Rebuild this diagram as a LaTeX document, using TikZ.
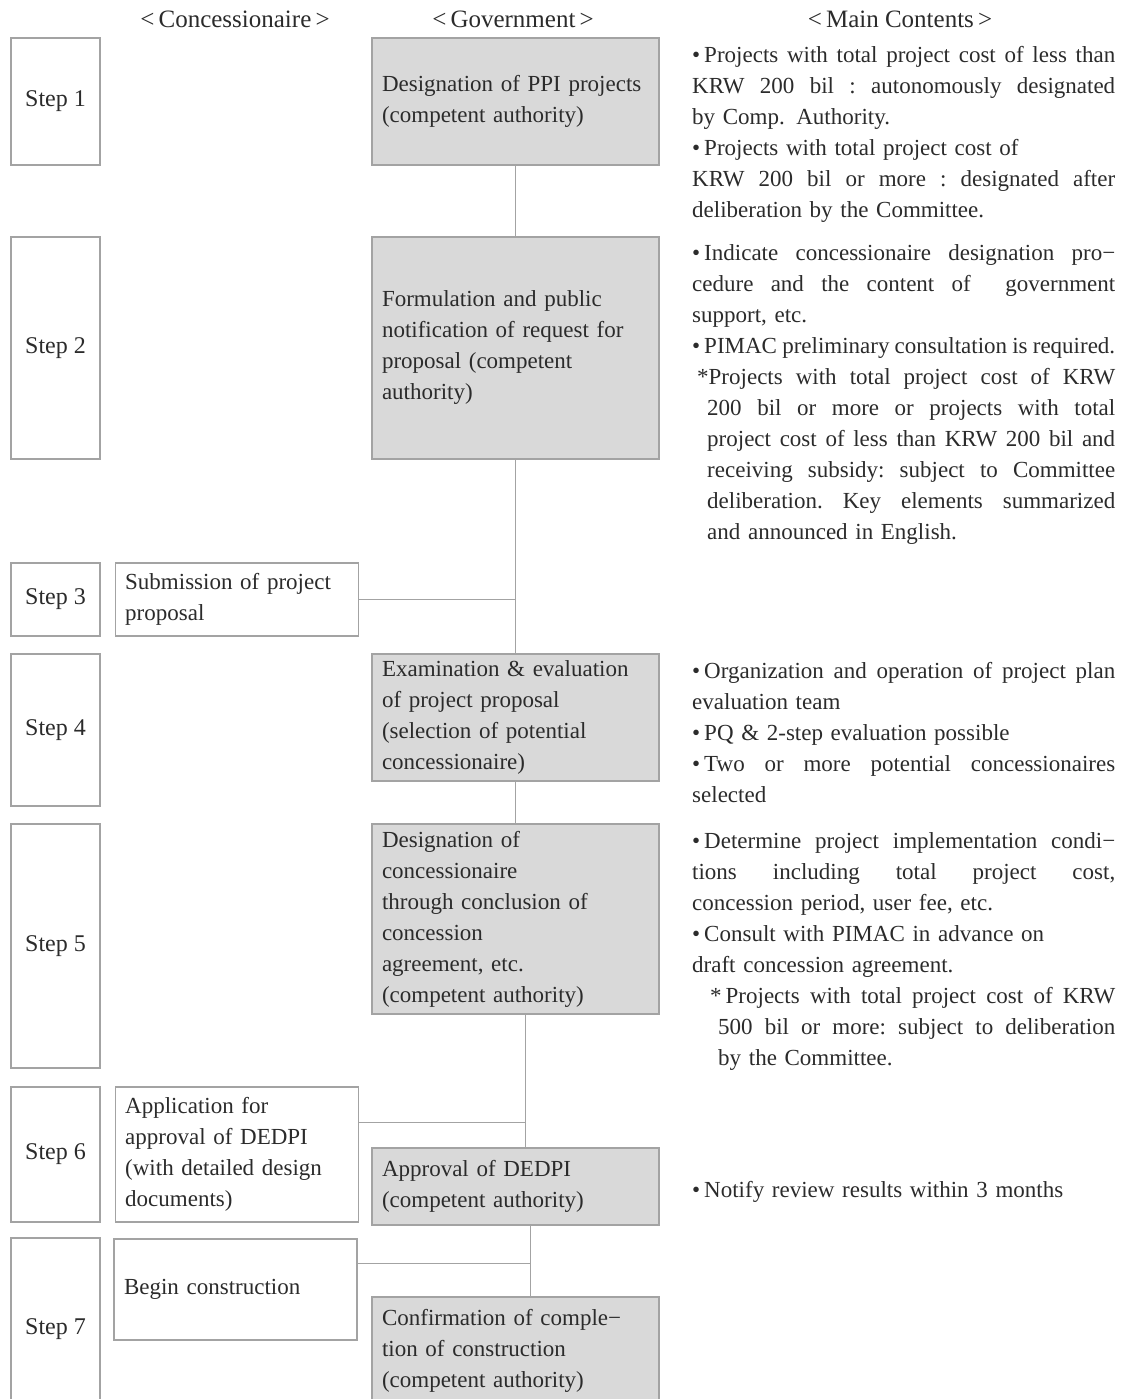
\documentclass[tikz,border=0pt]{standalone}
\usepackage{fontspec}
\setmainfont{Liberation Serif}
\usetikzlibrary{positioning}
\definecolor{boxgray}{HTML}{D9D9D9}
\definecolor{linegray}{HTML}{A3A3A3}
\definecolor{txtgray}{HTML}{2B2B2B}
\newcommand{\justline}[2][0pt]{\hspace*{#1}\hbox to \dimexpr 423pt-#1\relax{\spaceskip=\fontdimen2\font plus 1fil minus 1.5pt\relax \xspaceskip=\spaceskip #2}}
\newcommand{\bul}{•\kern4pt}

\begin{document}
\begin{tikzpicture}[x=1pt, y=-1pt,
	every node/.style={text=txtgray, font=\fontsize{23}{31}\selectfont},
	stepbox/.style={draw=linegray, line width=1.2pt, minimum width=89pt, inner sep=0pt, font=\fontsize{24}{31}\selectfont},
	govbox/.style={draw=linegray, line width=1.2pt, fill=boxgray, text width=267pt, inner xsep=10pt, inner ysep=0pt, align=left},
	conbox/.style={draw=linegray, line width=1.2pt, text width=223pt, inner xsep=10pt, inner ysep=0pt, align=left},
	headtext/.style={anchor=base, font=\fontsize{25}{31}\selectfont},
	maintext/.style={anchor=base west, text width=424pt, inner sep=0pt, align=left, font=\fontsize{23}{31}\selectfont},
	link/.style={draw=linegray, line width=1pt}]
		
		\useasboundingbox (0,0) rectangle (1124,1399);
		
		%headers
		\node[headtext] (hcon) at (235,28) {<\,Concessionaire\,>};
		\node[headtext] (hgov) at (513,28) {<\,Government\,>};
		\node[headtext] (hmain) at (900,28) {<\,Main Contents\,>};
		
		%steps
		\node[stepbox, minimum height=127pt] (step1) at (55.5,101.5) {Step 1};
		\node[stepbox, minimum height=222pt] (step2) at (55.5,348) {Step 2};
		\node[stepbox, minimum height=73pt] (step3) at (55.5,599.5) {Step 3};
		\node[stepbox, minimum height=152pt] (step4) at (55.5,730) {Step 4};
		\node[stepbox, minimum height=244pt] (step5) at (55.5,946) {Step 5};
		\node[stepbox, minimum height=135pt] (step6) at (55.5,1154.5) {Step 6};
		\node[stepbox, minimum height=182pt] (step7) at (55.5,1329) {Step 7};
		
		%government
		\node[govbox, minimum height=127pt] (gov1) at (515.5,101.5) {Designation of PPI projects\\(competent authority)};
		\node[govbox, minimum height=222pt] (gov2) at (515.5,348) {Formulation and public\\notification of request for\\proposal (competent\\authority)};
		\node[govbox, minimum height=127pt] (gov4) at (515.5,717.5) {Examination \& evaluation\\of project proposal\\(selection of potential\\concessionaire)};
		\node[govbox, minimum height=190pt] (gov5) at (515.5,919) {Designation of\\concessionaire\\through conclusion of\\concession\\agreement, etc.\\(competent authority)};
		\node[govbox, minimum height=77pt] (gov6) at (515.5,1186.5) {Approval of DEDPI\\(competent authority)};
		\node[govbox, minimum height=108pt] (gov7) at (515.5,1351) {Confirmation of comple−\\tion of construction\\(competent authority)};
		
		%concessionaire
		\node[conbox, minimum height=73pt, right=14pt of step3] (con3) {Submission of project\\proposal};
		\node[conbox, minimum height=135pt, right=14pt of step6] (con6) {Application for\\approval of DEDPI\\(with detailed design\\documents)};
		\node[conbox, minimum height=101pt] (con7) at (235.5,1289.5) {Begin construction};
		
		%main contents
		\node[maintext] (main1) at (692,63) {\justline{\bul Projects with total project cost of less than}\\
			\justline{KRW 200 bil : autonomously designated}\\
			by Comp. Authority.\\
			\bul Projects with total project cost of\\
			\justline{KRW 200 bil or more : designated after}\\
			deliberation by the Committee.};
		\node[maintext] (main2) at (692,260) {\justline{\bul Indicate concessionaire designation pro−}\\
			\justline{cedure and the content of \ government}\\
			support, etc.\\
			\justline{\bul PIMAC preliminary consultation is required.}\\
			\justline[5pt]{*Projects with total project cost of KRW}\\
			\justline[15pt]{200 bil or more or projects with total}\\
			\justline[15pt]{project cost of less than KRW 200 bil and}\\
			\justline[15pt]{receiving subsidy: subject to Committee}\\
			\justline[15pt]{deliberation. Key elements summarized}\\
			\hspace*{15pt}and announced in English.};
		\node[maintext] (main4) at (692,678) {\justline{\bul Organization and operation of project plan}\\
			evaluation team\\
			\bul PQ \& 2-step evaluation possible\\
			\justline{\bul Two or more potential concessionaires}\\
			selected};
		\node[maintext] (main5) at (692,848) {\justline{\bul Determine project implementation condi−}\\
			\justline{tions including total project cost,}\\
			concession period, user fee, etc.\\
			\bul Consult with PIMAC in advance on\\
			draft concession agreement.\\
			\justline[18pt]{*\kern4pt Projects with total project cost of KRW}\\
			\justline[26pt]{500 bil or more: subject to deliberation}\\
			\hspace*{26pt}by the Committee.};
		\node[maintext] (main6) at (692,1197) {\bul Notify review results within 3 months};
		
		%links
		\draw[link] (gov1) -- (gov2);
		\draw[link] (gov2) -- (gov4);
		\draw[link] (con3) -- (con3 -| gov2);
		\draw[link] (gov4) -- (gov5);
		\coordinate (j6) at (525,1122);
		\draw[link] (gov5.south -| j6) -- (gov6.north -| j6);
		\draw[link] (j6 -| con6.east) -- (j6);
		\coordinate (j7) at (530,1263);
		\draw[link] (gov6.south -| j7) -- (gov7.north -| j7);
		\draw[link] (j7 -| con7.east) -- (j7);
		
\end{tikzpicture}
\end{document}
